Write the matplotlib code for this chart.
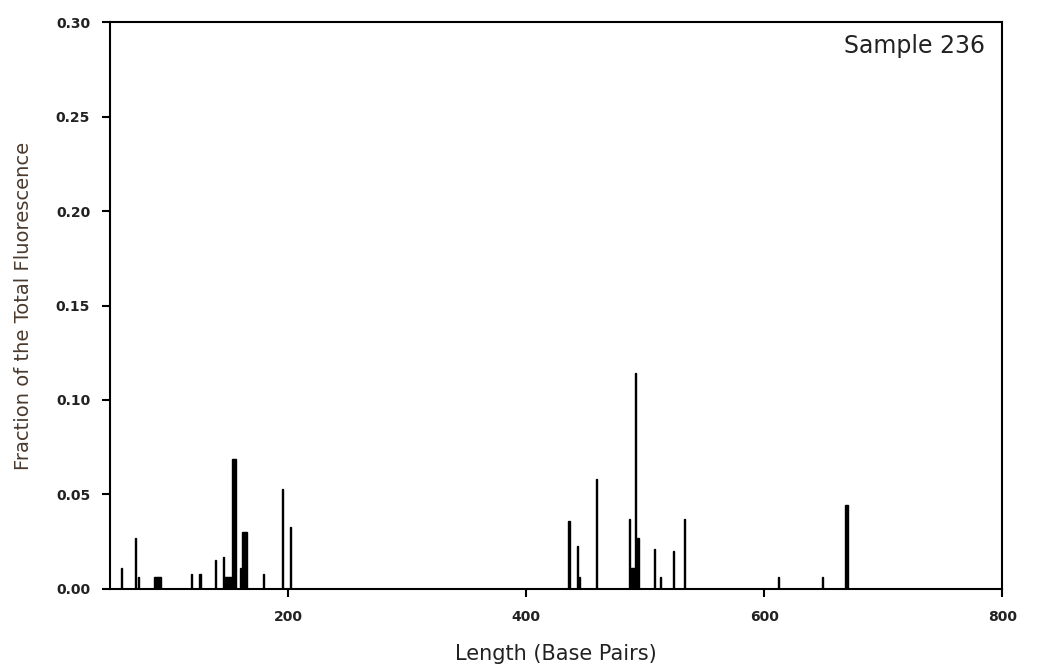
import matplotlib
matplotlib.use("Agg")
import matplotlib.pyplot as plt

# fragment lengths (bp) and fraction of total fluorescence
lengths = [60, 72, 74, 88, 89, 90, 91, 92, 93, 119, 126, 139, 146,
           147, 148, 149, 150, 151, 152, 153, 154, 155, 156, 160,
           162, 163, 164, 165, 179, 195, 202,
           436, 443, 445, 459, 487, 488, 489, 490, 491, 492, 493, 494,
           508, 513, 524, 533, 612, 649, 668, 669, 670]
fractions = [0.011, 0.027, 0.0065, 0.0065, 0.0065, 0.0065, 0.0065, 0.0065, 0.0065,
             0.008, 0.008, 0.0155, 0.017,
             0.0065, 0.0065, 0.0065, 0.0065, 0.0065, 0.0065, 0.069, 0.069, 0.069, 0.069, 0.011,
             0.030, 0.030, 0.030, 0.030, 0.008, 0.053, 0.033,
             0.036, 0.0225, 0.0065, 0.058, 0.037, 0.011, 0.011, 0.011, 0.011, 0.1145, 0.011, 0.027,
             0.021, 0.0065, 0.020, 0.037, 0.0065, 0.0065, 0.0445, 0.0445, 0.0445]

xticks = [200, 400, 600, 800]
yticks = [0.00, 0.05, 0.10, 0.15, 0.20, 0.25, 0.30]

plt.rcParams['font.family'] = ['DejaVu Sans']

fig = plt.figure(figsize=(10.44, 6.70), dpi=100)
ax = fig.add_axes([0.105, 0.121, 0.855, 0.846])

ax.bar(lengths, fractions, width=1.0, color='black', edgecolor='black', linewidth=1.0)

ax.set_xlim(50, 800)
ax.set_ylim(0, 0.30)
ax.set_xticks(xticks)
ax.set_yticks(yticks)
ax.set_xticklabels([str(t) for t in xticks])
ax.set_yticklabels(['%.2f' % t for t in yticks])
ax.tick_params(direction='out', length=6, width=1.5, labelsize=10, colors='black')
ax.tick_params(axis='x', pad=9)
ax.tick_params(axis='y', pad=8)
for lbl in ax.get_xticklabels() + ax.get_yticklabels():
    lbl.set_fontweight('bold')
    lbl.set_color('#222222')

for s in ax.spines.values():
    s.set_linewidth(1.5)

ax.set_xlabel('Length (Base Pairs)', fontsize=15, color='#222222')
ax.xaxis.set_label_coords(0.5, -0.098)
ax.set_ylabel('Fraction of the Total Fluorescence', fontsize=14, color='#4a3a2e')
ax.yaxis.set_label_coords(-0.086, 0.5)

ax.text(0.981, 0.958, 'Sample 236', transform=ax.transAxes, ha='right', va='center',
        fontsize=17, color='#222222')

fig.savefig('out.png', dpi=100)
